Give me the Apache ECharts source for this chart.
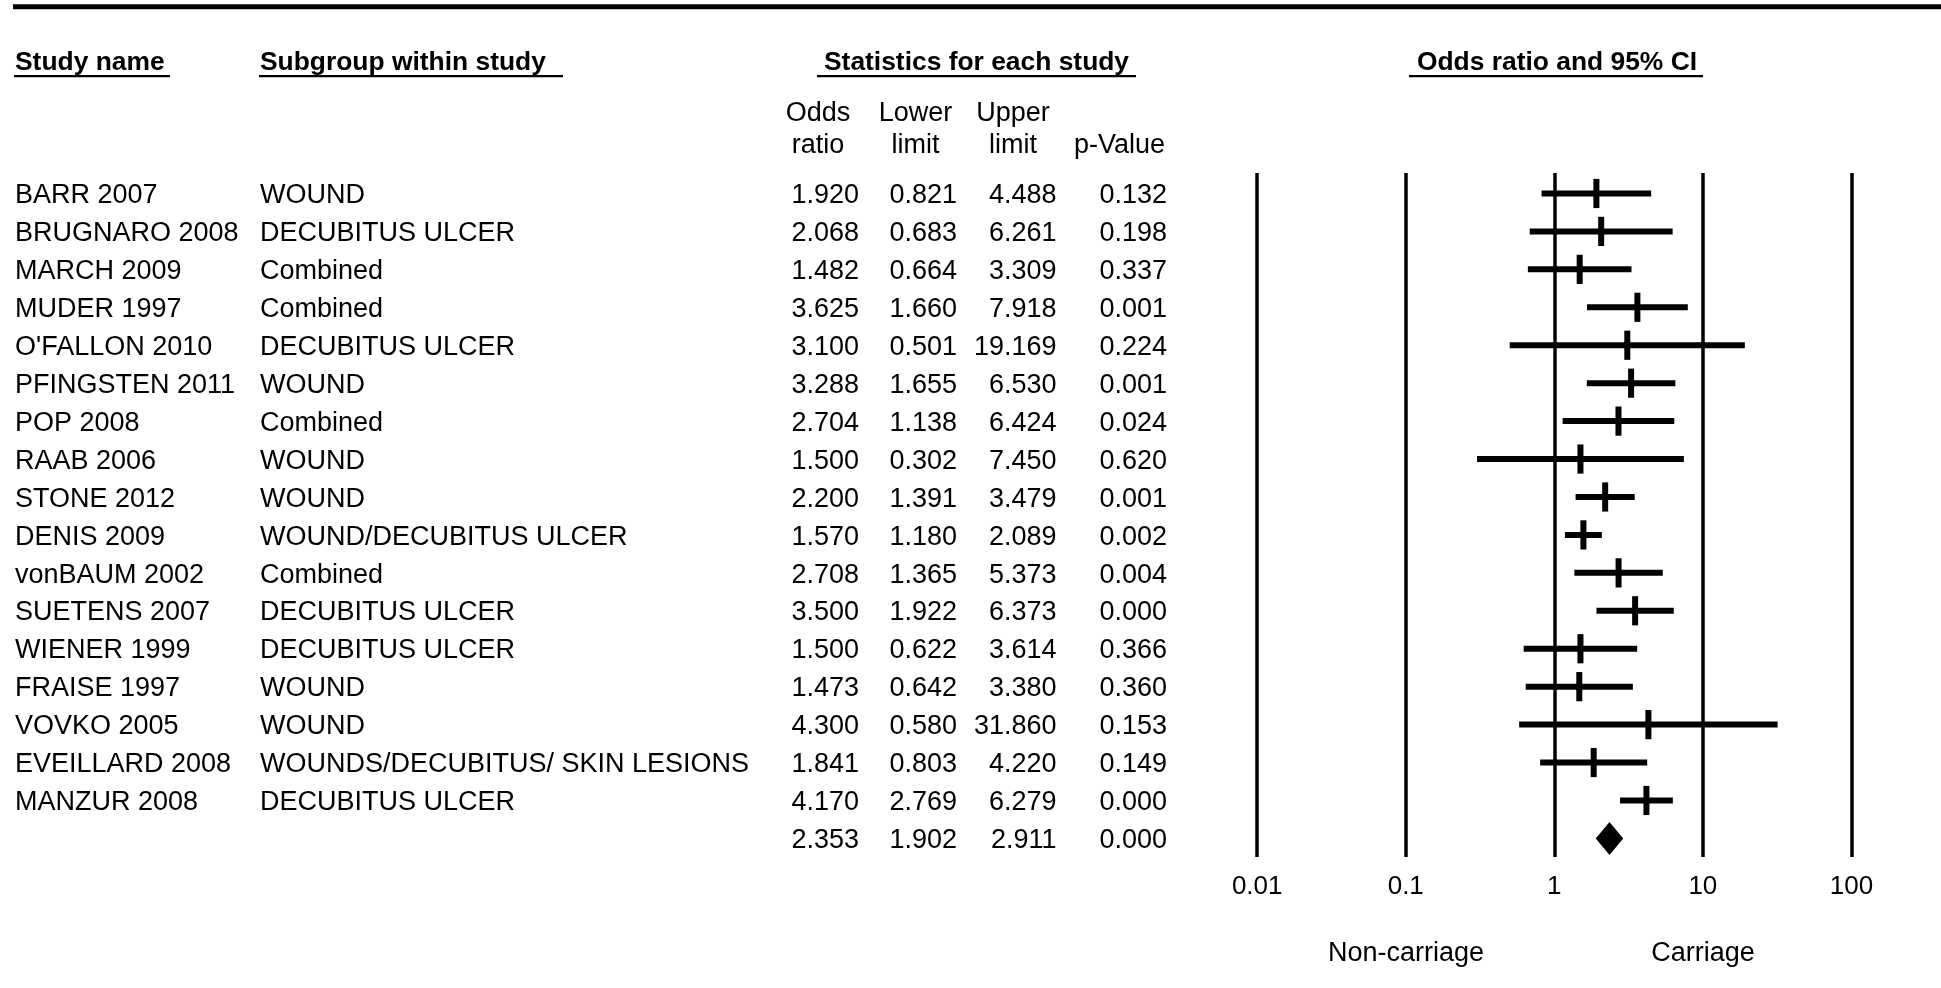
<!DOCTYPE html>
<html>
<head>
<meta charset="utf-8">
<script src="https://cdn.jsdelivr.net/npm/echarts@6/dist/echarts.min.js"></script>
<style>
html,body{margin:0;padding:0;background:#fff;}
#c{width:1941px;height:988px;}
</style>
</head>
<body>
<div id="c"></div>
<script>
// ---- data ----
const studies = ['BARR 2007','BRUGNARO 2008','MARCH 2009','MUDER 1997',"O'FALLON 2010",'PFINGSTEN 2011','POP 2008','RAAB 2006','STONE 2012','DENIS 2009','vonBAUM 2002','SUETENS 2007','WIENER 1999','FRAISE 1997','VOVKO 2005','EVEILLARD 2008','MANZUR 2008',''];
const subgroups = ['WOUND','DECUBITUS ULCER','Combined','Combined','DECUBITUS ULCER','WOUND','Combined','WOUND','WOUND','WOUND/DECUBITUS ULCER','Combined','DECUBITUS ULCER','DECUBITUS ULCER','WOUND','WOUND','WOUNDS/DECUBITUS/ SKIN LESIONS','DECUBITUS ULCER',''];
const oddsRatio  = [1.920,2.068,1.482,3.625,3.100,3.288,2.704,1.500,2.200,1.570,2.708,3.500,1.500,1.473,4.300,1.841,4.170,2.353];
const lowerLimit = [0.821,0.683,0.664,1.660,0.501,1.655,1.138,0.302,1.391,1.180,1.365,1.922,0.622,0.642,0.580,0.803,2.769,1.902];
const upperLimit = [4.488,6.261,3.309,7.918,19.169,6.530,6.424,7.450,3.479,2.089,5.373,6.373,3.614,3.380,31.860,4.220,6.279,2.911];
const pValues    = [0.132,0.198,0.337,0.001,0.224,0.001,0.024,0.620,0.001,0.002,0.004,0.000,0.366,0.360,0.153,0.149,0.000,0.000];
const isSummary  = [0,0,0,0,0,0,0,0,0,0,0,0,0,0,0,0,0,1];
const tickLabels = ['0.01','0.1','1','10','100'];
const headers = {study:'Study name', subgroup:'Subgroup within study', stats:'Statistics for each study', plot:'Odds ratio and 95% CI'};
const colHeads1 = ['Odds','Lower','Upper',''];
const colHeads2 = ['ratio','limit','limit','p-Value'];
const sideLabels = ['Non-carriage','Carriage'];

// ---- layout / style ----
const FAM = '"Liberation Sans", Arial, Helvetica, sans-serif';
const FONT = '27px ' + FAM;
const BFONT = 'bold 26.4px ' + FAM;
const TY = 2.2; // text vertical nudge
const COL = {study:15, subgroup:260, or:859, lo:957, hi:1056.5, p:1167};
const HEADC = [818, 915.5, 1013, 1119.5];

function txt(x, y, text, font, align) {
  return {type:'text', x:x, y:y + TY, silent:true,
    style:{text:text, font:font, fill:'#000', align:align, verticalAlign:'middle',
           textAlign:align, textVerticalAlign:'middle'}};
}
function bar(x, y, w, h) {
  return {type:'rect', silent:true, shape:{x:x, y:y, width:w, height:h}, style:{fill:'#000'}};
}

const graphics = [
  bar(13, 4.2, 1928, 5),
  txt(15, 61, headers.study, BFONT, 'left'),
  bar(14, 75, 156, 2.2),
  txt(260, 61, headers.subgroup, BFONT, 'left'),
  bar(259, 75, 304, 2.2),
  txt(824, 61, headers.stats, BFONT, 'left'),
  bar(817, 75, 319, 2.2),
  txt(1557, 61, headers.plot, BFONT, 'center'),
  bar(1409, 75, 294, 2.2),
  txt(1406, 951, sideLabels[0], FONT, 'center'),
  txt(1703, 951, sideLabels[1], FONT, 'center')
];
for (let k = 0; k < 4; k++) {
  if (colHeads1[k]) graphics.push(txt(HEADC[k], 111.5, colHeads1[k], FONT, 'center'));
  graphics.push(txt(HEADC[k], 143.5, colHeads2[k], FONT, 'center'));
}

const forestData = oddsRatio.map((v, i) => [v, lowerLimit[i], upperLimit[i], i, isSummary[i]]);
const tableData = oddsRatio.map((v, i) => [v, i]);

const chart = echarts.init(document.getElementById('c'), null, {renderer:'canvas'});
chart.setOption({
  animation: false,
  backgroundColor: '#fff',
  grid: {left:1257.2, right:89.6, top:173, bottom:131, containLabel:false, outerBoundsMode:'none'},
  xAxis: {
    type:'log', logBase:10, min:0.01, max:100, interval:1,
    axisLine:{show:false}, axisTick:{show:false},
    splitLine:{show:true, showMinLine:true, showMaxLine:true, lineStyle:{color:'#000', width:3.5}},
    axisLabel:{
      show:true, margin:28 + TY, verticalAlign:'middle', color:'#000',
      fontFamily:'"Liberation Sans", Arial, sans-serif', fontSize:26,
      showMinLabel:true, showMaxLabel:true, hideOverlap:false,
      formatter: function (v) {
        const k = Math.round(Math.log10(v)) + 2;
        return tickLabels[k] !== undefined ? tickLabels[k] : '';
      }
    }
  },
  yAxis: {type:'value', inverse:true, min:-0.54, max:17.49, show:false},
  series: [
    {
      type:'custom', name:'forest', clip:false, silent:true,
      data: forestData,
      encode:{x:[0,1,2], y:3},
      renderItem: function (params, api) {
        const i = api.value(3);
        const y = api.coord([1, i])[1];
        const xo = api.coord([api.value(0), i])[0];
        const xl = api.coord([api.value(1), i])[0];
        const xu = api.coord([api.value(2), i])[0];
        if (api.value(4) === 1) {
          return {type:'polygon', shape:{points:[[xl, y], [xo, y - 16.5], [xu, y], [xo, y + 16.5]]},
                  style:{fill:'#000'}};
        }
        return {type:'group', children:[
          {type:'rect', shape:{x:xl, y:y - 3, width:xu - xl, height:6}, style:{fill:'#000'}},
          {type:'rect', shape:{x:xo - 3, y:y - 14.6, width:6, height:29.2}, style:{fill:'#000'}}
        ]};
      }
    },
    {
      type:'custom', name:'table', clip:false, silent:true,
      data: tableData,
      encode:{x:0, y:1},
      renderItem: function (params, api) {
        const i = params.dataIndex;
        const y = api.coord([1, api.value(1)])[1];
        return {type:'group', children:[
          txt(COL.study, y, studies[i], FONT, 'left'),
          txt(COL.subgroup, y, subgroups[i], FONT, 'left'),
          txt(COL.or, y, oddsRatio[i].toFixed(3), FONT, 'right'),
          txt(COL.lo, y, lowerLimit[i].toFixed(3), FONT, 'right'),
          txt(COL.hi, y, upperLimit[i].toFixed(3), FONT, 'right'),
          txt(COL.p, y, pValues[i].toFixed(3), FONT, 'right')
        ]};
      }
    }
  ],
  graphic: graphics
});
</script>
</body>
</html>
